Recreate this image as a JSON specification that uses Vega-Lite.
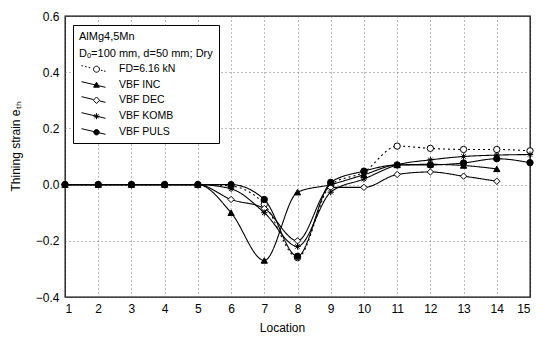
{
  "$schema": "https://vega.github.io/schema/vega-lite/v6.json",
  "width": 465,
  "height": 281,
  "autosize": {"type": "none"},
  "padding": {"left": 65, "top": 16, "right": 7, "bottom": 42},
  "background": "white",
  "config": {
    "font": "Liberation Sans",
    "view": {"stroke": "black", "strokeWidth": 1.3},
    "axis": {
      "domain": false,
      "ticks": false,
      "grid": true,
      "gridColor": "#555",
      "gridDash": [1, 3],
      "gridWidth": 0.8,
      "labelColor": "black",
      "labelFontSize": 12,
      "titleColor": "black",
      "titleFontSize": 12,
      "titleFontWeight": "normal"
    }
  },
  "data": {
    "values": [
      {"loc": 1, "series": "FD=6.16 kN", "v": 0},
      {"loc": 2, "series": "FD=6.16 kN", "v": 0},
      {"loc": 3, "series": "FD=6.16 kN", "v": 0},
      {"loc": 4, "series": "FD=6.16 kN", "v": 0},
      {"loc": 5, "series": "FD=6.16 kN", "v": 0},
      {"loc": 6, "series": "FD=6.16 kN", "v": -0.005},
      {"loc": 7, "series": "FD=6.16 kN", "v": -0.07},
      {"loc": 8, "series": "FD=6.16 kN", "v": -0.26},
      {"loc": 9, "series": "FD=6.16 kN", "v": 0.0},
      {"loc": 10, "series": "FD=6.16 kN", "v": 0.045},
      {"loc": 11, "series": "FD=6.16 kN", "v": 0.137},
      {"loc": 12, "series": "FD=6.16 kN", "v": 0.129},
      {"loc": 13, "series": "FD=6.16 kN", "v": 0.125},
      {"loc": 14, "series": "FD=6.16 kN", "v": 0.125},
      {"loc": 15, "series": "FD=6.16 kN", "v": 0.12},
      {"loc": 1, "series": "VBF INC", "v": 0},
      {"loc": 2, "series": "VBF INC", "v": 0},
      {"loc": 3, "series": "VBF INC", "v": 0},
      {"loc": 4, "series": "VBF INC", "v": 0},
      {"loc": 5, "series": "VBF INC", "v": 0},
      {"loc": 6, "series": "VBF INC", "v": -0.1},
      {"loc": 7, "series": "VBF INC", "v": -0.27},
      {"loc": 8, "series": "VBF INC", "v": -0.027},
      {"loc": 9, "series": "VBF INC", "v": 0.0},
      {"loc": 10, "series": "VBF INC", "v": 0.035},
      {"loc": 11, "series": "VBF INC", "v": 0.07},
      {"loc": 12, "series": "VBF INC", "v": 0.072},
      {"loc": 13, "series": "VBF INC", "v": 0.068},
      {"loc": 14, "series": "VBF INC", "v": 0.056},
      {"loc": 1, "series": "VBF DEC", "v": 0},
      {"loc": 2, "series": "VBF DEC", "v": 0},
      {"loc": 3, "series": "VBF DEC", "v": 0},
      {"loc": 4, "series": "VBF DEC", "v": 0},
      {"loc": 5, "series": "VBF DEC", "v": 0},
      {"loc": 6, "series": "VBF DEC", "v": -0.053},
      {"loc": 7, "series": "VBF DEC", "v": -0.085},
      {"loc": 8, "series": "VBF DEC", "v": -0.2},
      {"loc": 9, "series": "VBF DEC", "v": -0.01},
      {"loc": 10, "series": "VBF DEC", "v": -0.01},
      {"loc": 11, "series": "VBF DEC", "v": 0.036},
      {"loc": 12, "series": "VBF DEC", "v": 0.045},
      {"loc": 13, "series": "VBF DEC", "v": 0.03},
      {"loc": 14, "series": "VBF DEC", "v": 0.012},
      {"loc": 1, "series": "VBF KOMB", "v": 0},
      {"loc": 2, "series": "VBF KOMB", "v": 0},
      {"loc": 3, "series": "VBF KOMB", "v": 0},
      {"loc": 4, "series": "VBF KOMB", "v": 0},
      {"loc": 5, "series": "VBF KOMB", "v": 0},
      {"loc": 6, "series": "VBF KOMB", "v": -0.015},
      {"loc": 7, "series": "VBF KOMB", "v": -0.1},
      {"loc": 8, "series": "VBF KOMB", "v": -0.22},
      {"loc": 9, "series": "VBF KOMB", "v": -0.027},
      {"loc": 10, "series": "VBF KOMB", "v": 0.02},
      {"loc": 11, "series": "VBF KOMB", "v": 0.07},
      {"loc": 12, "series": "VBF KOMB", "v": 0.088},
      {"loc": 13, "series": "VBF KOMB", "v": 0.1},
      {"loc": 14, "series": "VBF KOMB", "v": 0.105},
      {"loc": 15, "series": "VBF KOMB", "v": 0.107},
      {"loc": 1, "series": "VBF PULS", "v": 0},
      {"loc": 2, "series": "VBF PULS", "v": 0},
      {"loc": 3, "series": "VBF PULS", "v": 0},
      {"loc": 4, "series": "VBF PULS", "v": 0},
      {"loc": 5, "series": "VBF PULS", "v": 0},
      {"loc": 6, "series": "VBF PULS", "v": 0.0},
      {"loc": 7, "series": "VBF PULS", "v": -0.053},
      {"loc": 8, "series": "VBF PULS", "v": -0.255},
      {"loc": 9, "series": "VBF PULS", "v": 0.008},
      {"loc": 10, "series": "VBF PULS", "v": 0.048},
      {"loc": 11, "series": "VBF PULS", "v": 0.07},
      {"loc": 12, "series": "VBF PULS", "v": 0.07},
      {"loc": 13, "series": "VBF PULS", "v": 0.077},
      {"loc": 14, "series": "VBF PULS", "v": 0.092},
      {"loc": 15, "series": "VBF PULS", "v": 0.078}
    ]
  },
  "encoding": {
    "x": {
      "field": "loc",
      "type": "quantitative",
      "scale": {"domain": [1, 15], "nice": false, "zero": false},
      "axis": {
        "values": [1, 2, 3, 4, 5, 6, 7, 8, 9, 10, 11, 12, 13, 14, 15],
        "title": "Location",
        "labelPadding": 6,
        "titlePadding": 8,
        "titleX": 217
      }
    },
    "y": {
      "field": "v",
      "type": "quantitative",
      "scale": {"domain": [-0.4, 0.6], "nice": false, "zero": false},
      "axis": {
        "values": [-0.4, -0.2, 0, 0.2, 0.4, 0.6],
        "format": ".1f",
        "title": "Thining strain  eₜₕ",
        "labelPadding": 6,
        "titlePadding": 13,
        "titleY": 130
      }
    }
  },
  "layer": [
    {
      "mark": {"type": "line", "interpolate": "monotone", "stroke": "black", "strokeWidth": 1.1},
      "encoding": {
        "detail": {"field": "series"},
        "strokeDash": {
          "condition": {"test": "datum.series === 'FD=6.16 kN'", "value": [2, 3]},
          "value": [1, 0]
        }
      }
    },
    {
      "mark": {"type": "point", "stroke": "black", "strokeWidth": 1, "size": 40, "opacity": 1},
      "encoding": {
        "fill": {
          "condition": {"test": "datum.series === 'FD=6.16 kN' || datum.series === 'VBF DEC'", "value": "white"},
          "value": "black"
        },
        "shape": {
          "condition": [
            {"test": "datum.series === 'VBF INC'", "value": "triangle-up"},
            {"test": "datum.series === 'VBF DEC'", "value": "diamond"},
            {"test": "datum.series === 'VBF KOMB'", "value": "M-1,0L1,0M0,-1L0,1M-0.7,-0.7L0.7,0.7M-0.7,0.7L0.7,-0.7"}
          ],
          "value": "circle"
        }
      }
    },
    {
      "transform": [{"filter": "false"}],
      "mark": {"type": "point", "strokeWidth": 1, "opacity": 1},
      "encoding": {
        "shape": {
          "field": "series",
          "type": "nominal",
          "scale": {
            "domain": ["FD=6.16 kN", "VBF INC", "VBF DEC", "VBF KOMB", "VBF PULS"],
            "range": [
              "M-2,-0.47L-1.75,-0.41M-1.4,-0.33L-1.15,-0.27M-0.8,-0.19L-0.55,-0.13M0,0.12A0.5,0.5 0 1,0 1,0.12A0.5,0.5 0 1,0 0,0.12ZM1.25,0.29L1.5,0.35M1.75,0.41L2,0.47",
              "M-2,-0.47L2,0.47M0.5,-0.38L0.98,0.45L0.02,0.45Z",
              "M-2,-0.47L-0.02,0M1.02,0.24L2,0.47M0.5,-0.42L1.02,0.12L0.5,0.66L-0.02,0.12Z",
              "M-2,-0.47L2,0.47M0.5,-0.38L0.5,0.62M0,0.12L1,0.12M0.15,-0.23L0.85,0.47M0.15,0.47L0.85,-0.23",
              "M-2,-0.47L2,0.47M0.05,0.12A0.45,0.45 0 1,0 0.95,0.12A0.45,0.45 0 1,0 0.05,0.12Z"
            ]
          },
          "legend": {
            "title": ["AlMg4,5Mn", "Dₒ=100 mm, d=50 mm; Dry"],
            "orient": "none",
            "legendX": 8,
            "legendY": 9,
            "fillColor": "white",
            "strokeColor": "black",
            "padding": 6,
            "titleFontSize": 11,
            "titleFontWeight": "normal",
            "titleColor": "black",
            "titleLineHeight": 17,
            "titlePadding": 3,
            "labelFontSize": 10.5,
            "labelColor": "black",
            "labelOffset": 19,
            "symbolSize": 144,
            "symbolStrokeWidth": 1,
            "rowPadding": 3,
            "symbolOffset": 8
          }
        },
        "fill": {
          "field": "series",
          "type": "nominal",
          "scale": {
            "domain": ["FD=6.16 kN", "VBF INC", "VBF DEC", "VBF KOMB", "VBF PULS"],
            "range": ["white", "black", "white", "black", "black"]
          },
          "legend": {"title": ["AlMg4,5Mn", "Dₒ=100 mm, d=50 mm; Dry"]}
        },
        "stroke": {
          "field": "series",
          "type": "nominal",
          "scale": {
            "domain": ["FD=6.16 kN", "VBF INC", "VBF DEC", "VBF KOMB", "VBF PULS"],
            "range": ["black", "black", "black", "black", "black"]
          },
          "legend": {"title": ["AlMg4,5Mn", "Dₒ=100 mm, d=50 mm; Dry"]}
        }
      }
    }
  ]
}
